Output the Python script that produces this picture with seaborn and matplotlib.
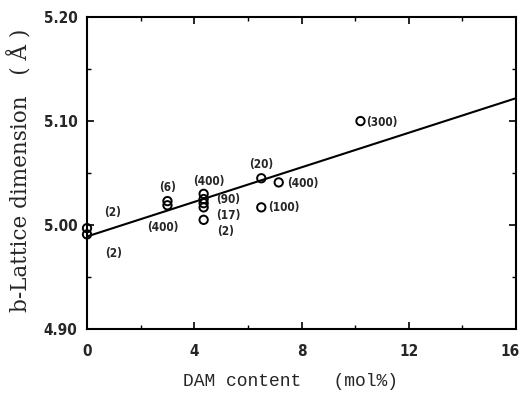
import matplotlib
matplotlib.use("Agg")
import matplotlib.pyplot as plt
import matplotlib.transforms as mtransforms
import seaborn as sns
import pandas as pd
from matplotlib.ticker import MultipleLocator, FixedLocator

# data
dam_content = [0, 0, 3.0, 3.0, 4.35, 4.35, 4.35, 4.35, 4.35, 6.5, 7.15, 6.5, 10.2]
b_lattice = [4.997, 4.991, 5.023, 5.019, 5.030, 5.025, 5.021, 5.017, 5.005, 5.045, 5.041, 5.017, 5.100]

fit_x = [0, 16]
fit_y = [4.989, 5.122]

x_ticks = [0, 4, 8, 12, 16]
x_tick_labels = ["0", "4", "8", "12", "16"]
y_ticks = [4.90, 5.00, 5.10, 5.20]
y_tick_labels = ["4.90", "5.00", "5.10", "5.20"]

label_text = ["(2)", "(2)", "(6)", "(400)", "(400)", "(90)", "(17)", "(2)", "(20)", "(400)", "(100)", "(300)"]
label_x = [0, 0, 3.0, 3.0, 4.35, 4.35, 4.35, 4.35, 6.5, 7.15, 6.5, 10.2]
label_y = [4.997, 4.991, 5.023, 5.019, 5.030, 5.025, 5.005, 5.005, 5.045, 5.041, 5.017, 5.100]
label_dx = [12, 13, 0, -3, 4, 9, 9, 9.5, 0, 6, 5, 4]
label_dy = [11, -14, 10, -16, 9, 0, 3, -8.5, 10, -1, 0, -1]
label_ha = ["left", "left", "center", "center", "center", "left", "left", "left", "center", "left", "left", "left"]

sns.set_style("white")
fig = plt.figure(figsize=(5.22, 3.98), dpi=100)
ax = fig.add_axes([0.1667, 0.1734, 0.8218, 0.7836])

df_pts = pd.DataFrame({"x": dam_content, "y": b_lattice})
df_fit = pd.DataFrame({"x": fit_x, "y": fit_y})

sns.lineplot(data=df_fit, x="x", y="y", ax=ax, color="black", linewidth=1.5)
sns.scatterplot(data=df_pts, x="x", y="y", ax=ax, marker="o", s=36,
                facecolor="none", edgecolor="black", linewidth=1.4, zorder=5,
                clip_on=False)

for t, x, y, dx, dy, ha in zip(label_text, label_x, label_y, label_dx, label_dy, label_ha):
    ax.annotate(t, xy=(x, y), xytext=(dx, dy), textcoords="offset points",
                ha=ha, va="center", fontsize=8.5, fontweight="bold",
                fontfamily="DejaVu Sans", fontstretch="condensed")

ax.set_xlim(0, 16)
ax.set_ylim(4.90, 5.20)
ax.xaxis.set_major_locator(FixedLocator(x_ticks))
ax.xaxis.set_minor_locator(MultipleLocator(2))
ax.yaxis.set_major_locator(FixedLocator(y_ticks))
ax.yaxis.set_minor_locator(MultipleLocator(0.05))
ax.set_xticklabels(x_tick_labels)
ax.set_yticklabels(y_tick_labels)
ax.tick_params(which="both", direction="in", top=True, right=True, bottom=True, left=True, color="black")
ax.tick_params(which="major", length=5, width=1.2)
ax.tick_params(which="minor", length=3, width=1.0)
ax.tick_params(axis="x", which="major", pad=11)
ax.tick_params(axis="y", which="major", pad=7)
for lbl in ax.get_xticklabels() + ax.get_yticklabels():
    lbl.set_fontfamily("DejaVu Sans")
    lbl.set_fontstretch("condensed")
    lbl.set_fontweight("bold")
    lbl.set_fontsize(11)

# keep the last x tick label inside the figure
last = ax.get_xticklabels()[-1]
last.set_transform(last.get_transform() + mtransforms.ScaledTranslation(-4 / 72, 0, fig.dpi_scale_trans))

for sp in ax.spines.values():
    sp.set_color("black")
    sp.set_linewidth(1.5)

ax.set_xlabel("DAM content   (mol%)", fontfamily="Liberation Mono", fontsize=13, labelpad=10)
ax.xaxis.label.set_x(0.475)
ax.set_ylabel("b-Lattice dimension   ( Å )", fontfamily="DejaVu Serif", fontsize=15.5, labelpad=8)
ax.yaxis.label.set_y(0.51)

fig.savefig("out.png", dpi=100)
